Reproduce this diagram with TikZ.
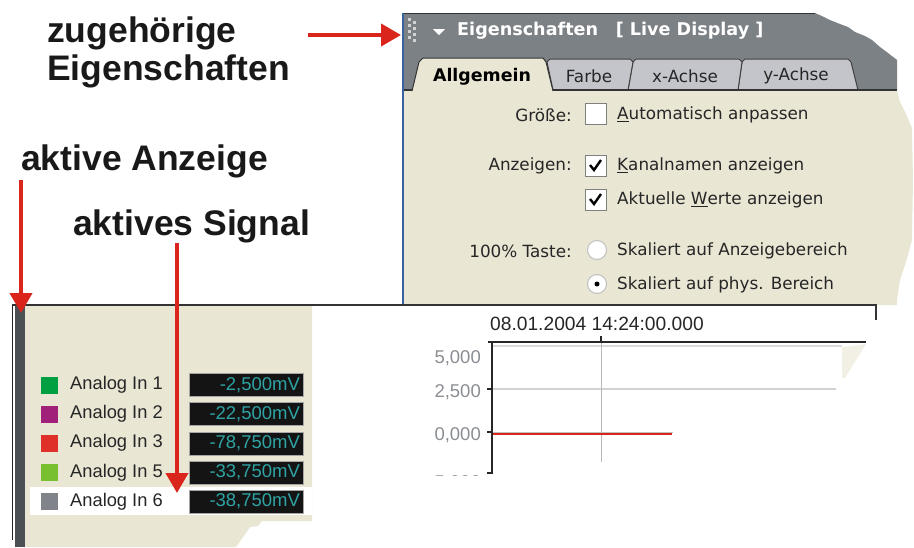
\documentclass[tikz,border=0pt]{standalone}
\usepackage{fontspec}
\setmainfont{Liberation Sans}
\newfontfamily\uifont{DejaVu Sans}
\usetikzlibrary{arrows.meta,positioning,calc}
\definecolor{xpbeige}{HTML}{E9E6D4}
\definecolor{hdrgray}{HTML}{7C8186}
\definecolor{tabgray}{HTML}{C4C5CB}
\definecolor{markred}{HTML}{DA251D}
\definecolor{bardark}{HTML}{4B5055}
\definecolor{valteal}{HTML}{2FA3A3}
\definecolor{ticktext}{HTML}{8A8E93}
\definecolor{panelblue}{HTML}{3A64A0}
\definecolor{chA}{HTML}{00A040}
\definecolor{chB}{HTML}{A0207A}
\definecolor{chC}{HTML}{E0302A}
\definecolor{chD}{HTML}{78C030}
\definecolor{chE}{HTML}{80848A}
\tikzset{
  callout/.style={font=\fontsize{35.5}{40}\selectfont\bfseries, text=black!90, inner sep=0pt},
  redarrow/.style={draw=markred, line width=4pt, -{Triangle[width=22pt,length=20pt]}},
  ui/.style={font=\uifont\fontsize{16.8}{19}\selectfont, text=black!85, inner sep=0pt},
  hdrtext/.style={font=\uifont\bfseries\fontsize{17.6}{19}\selectfont, text=white, inner sep=0pt},
  tab/.style={draw=black!75, line width=1pt, fill=tabgray},
  chkbox/.style={draw=gray, fill=white, line width=1.2pt, minimum size=21pt, inner sep=0pt},
  radio/.style={circle, draw=gray!50, fill=white, line width=1pt, minimum size=19pt, inner sep=0pt},
  swatch/.style={minimum size=17pt, inner sep=0pt},
  chan/.style={font=\fontsize{18.3}{20}\selectfont, text=black!85, anchor=west, inner sep=0pt},
  valbox/.style={draw=gray!70, fill=black!92, minimum width=114pt, minimum height=23pt,
    inner sep=2pt, text width=108pt, align=right, text=valteal, font=\fontsize{18.5}{20}\selectfont},
  axlbl/.style={font=\fontsize{18.5}{20}\selectfont, text=ticktext, anchor=east, inner sep=0pt},
}

\begin{document}
\begin{tikzpicture}[x=1pt, y=-1pt]
\useasboundingbox (0,0) rectangle (914,547);

% Eigenschaften panel
\fill[hdrgray] (403,13) -- (815,13) -- (822,16) -- (830,20) -- (840,24) -- (848,27) -- (855,32)
  -- (865,36) -- (872,40) -- (880,47) -- (888,53) -- (897,60) -- (897,90) -- (403,90) -- cycle;
\fill[xpbeige] (403,90) -- (897,90) -- (900,102) -- (906,114) -- (912,128) -- (913,180) -- (912,240)
  -- (906,262) -- (900,280) -- (897,300) -- (897,305) -- (403,305) -- cycle;
\draw[black!80, line width=1pt] (403,13) -- (815,13);
\foreach \y in {18,24,30,36} {
  \fill[gray!35] (408,\y) rectangle +(3,3);
  \fill[gray!35] (413,\y+3) rectangle +(3,3);
}
\fill[white] (433,29) -- (445,29) -- (439,35) -- cycle;
\node[hdrtext, anchor=west] (hdr) at (457,31) {Eigenschaften\quad[ Live Display ]};

% tabs
\draw[tab] (738,90) -- (742,62) -- (745,59) -- (848,59) -- (851,62) -- (858,90);
\draw[tab] (628,90) -- (633,62) -- (636,59) -- (739,59) -- (742,62) -- (738,90);
\draw[tab] (553,90) -- (547,62) -- (550,59) -- (630,59) -- (633,62) -- (628,90);
\draw[black!80, line width=1.2pt] (403,90) -- (412,90) (553,90) -- (897,90);
\fill[xpbeige] (412,91) -- (419,62) -- (423,58) -- (543,58) -- (546,62) -- (553,91) -- cycle;
\draw[black!80, line width=1pt] (412,91) -- (419,62) -- (423,58) -- (543,58) -- (546,62) -- (553,91);
\node[ui, font=\uifont\bfseries\fontsize{17.4}{19}\selectfont, text=black] (tabgen) at (482,77) {Allgemein};
\node[ui] (tabcol) at (589,76) {Farbe};
\node[ui] (tabx) at (685,76) {x-Achse};
\node[ui] (taby) at (796,76) {y-Achse};
\draw[panelblue, line width=1.2pt] (403,13) -- (403,305);

% form rows
\node[ui, anchor=east] (lblsize) at (572,115) {Größe:};
\node[chkbox] (cbsize) at (596,114) {};
\node[ui, anchor=west] (txtauto) at (617,115) {\underline{A}utomatisch anpassen};

\node[ui, anchor=east] (lblshow) at (572,166) {Anzeigen:};
\node[chkbox] (cbname) at (596,166) {};
\node[ui, anchor=west] (txtname) at (617,166) {\underline{K}analnamen anzeigen};
\node[chkbox] (cbval) at (596,200) {};
\node[ui, anchor=west] (txtval) at (617,200) {Aktuelle \underline{W}erte anzeigen};
\foreach \b in {cbname,cbval}
  \draw[line width=2.4pt] ([shift={(-6,-1)}]\b.center) -- ++(4,5) -- ++(7,-10);

\node[ui, anchor=east] (lblkey) at (572,251) {100\% Taste:};
\node[radio] (rbfit) at (597,250) {};
\node[ui, anchor=west] (txtfit) at (617,251) {Skaliert auf Anzeigebereich};
\node[radio] (rbphys) at (597,284) {};
\fill (rbphys.center) circle (2.5pt);
\node[ui, anchor=west] (txtphys) at (617,285) {Skaliert auf phys. Bereich};

% lower screenshot: legend
\fill[xpbeige] (25,306) -- (312,306) -- (312,521) -- (262,521) -- (258,526) -- (250,527) -- (246,533)
  -- (241,540) -- (236,547) -- (25,547) -- cycle;
\fill[bardark] (15,306) rectangle (25,547);
\draw[black!85, line width=1pt] (12,305) -- (12,540);
\draw[black!80, line width=1.5pt] (12,305) -- (876,305) -- (876,320);
\fill[white] (30,487) rectangle (312,515);

\foreach \c/\n/\v [count=\k] in {chA/{Analog In 1}/{-2,500mV}, chB/{Analog In 2}/{-22,500mV},
    chC/{Analog In 3}/{-78,750mV}, chD/{Analog In 5}/{-33,750mV}, chE/{Analog In 6}/{-38,750mV}} {
  \pgfmathsetmacro{\y}{385+29.1*(\k-1)}
  \node[swatch, fill=\c] (sw\k) at (49,\y) {};
  \node[chan] (ch\k) at (70,\y) {\n};
  \node[valbox] (val\k) at (246,\y) {\v};
}

% chart
\node[font=\fontsize{19.2}{20}\selectfont, text=black!85, anchor=west, inner sep=0pt] (stamp) at (490,324) {08.01.2004 14:24:00.000};
\draw[gray!30, line width=1.2pt] (492,346) -- (842,346);
\draw[gray!35, line width=1.2pt] (492,389) -- (836,389);
\draw[gray!55, line width=1pt] (601,342) -- (601,462);
\draw[gray!50, line width=1pt] (492,432) -- (673,432);
\draw[markred, line width=2pt] (492,434) -- (672,434);
\fill[xpbeige!60!white] (842,347) -- (866,344) -- (845,378) -- (842,378) -- cycle;
\draw[black!85, line width=2pt] (488,342) -- (866,342);
\draw[black!85, line width=2pt] (492,342) -- (492,474);
\draw[black!85, line width=1.2pt] (601,336) -- (601,342);
\foreach \t in {389,432,473}
  \draw[black!85, line width=1.2pt] (487,\t) -- (492,\t);
\node[axlbl] (ylfive) at (481,358) {5,000};
\node[axlbl] (yltwo) at (481,392) {2,500};
\node[axlbl] (ylzero) at (481,435) {0,000};
\begin{scope}
  \clip (420,471) rectangle (486,475);
  \node[axlbl] (ylneg) at (481,483) {-5,000};
\end{scope}

% callouts
\node[callout, anchor=base west] (lblzug) at (47,42) {zugehörige};
\node[callout, anchor=base west] (lbleig) at (47,80) {Eigenschaften};
\node[callout, anchor=base west] (lblanz) at (21,170) {aktive Anzeige};
\node[callout, anchor=base west] (lblsig) at (73,235) {aktives Signal};
\coordinate (zugtail) at (308,35);
\coordinate (hdrleft) at (401,35);
\coordinate (bartop) at (21,313);
\coordinate (sigtip) at (177,493);
\draw[redarrow] (zugtail) -- (hdrleft);
\draw[redarrow] ([yshift=-2pt]lblanz.south west) -- (bartop);
\draw[redarrow] (lblsig.south -| sigtip) -- (sigtip);
\end{tikzpicture}
\end{document}
